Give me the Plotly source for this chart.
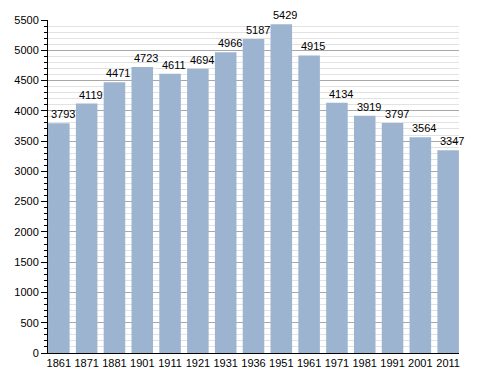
import plotly.graph_objects as go

years = ["1861", "1871", "1881", "1901", "1911", "1921", "1931", "1936", "1951", "1961", "1971", "1981", "1991", "2001", "2011"]
population = [3793, 4119, 4471, 4723, 4611, 4694, 4966, 5187, 5429, 4915, 4134, 3919, 3797, 3564, 3347]

FONT = "Liberation Sans, Arial"

fig = go.Figure(go.Bar(
    x=years, y=population,
    marker=dict(color="#9cb4d0", line=dict(width=0)),
))
for i, v in enumerate(population):
    fig.add_annotation(
        x=i, y=v, text=str(v), showarrow=False,
        xanchor="center", yanchor="bottom", xshift=4, yshift=1,
        font=dict(size=11, color="black", family=FONT),
    )
fig.update_layout(
    width=480, height=365,
    margin=dict(l=40, r=29, t=12, b=20, autoexpand=False),
    paper_bgcolor="white", plot_bgcolor="white",
    bargap=0.225,
    showlegend=False,
    font=dict(family=FONT, size=11, color="black"),
)
fig.update_xaxes(
    type="category", range=[-0.39, 14.39], automargin=False,
    showline=True, linecolor="black", linewidth=1,
    ticks="", showgrid=False, tickfont=dict(size=11),
)
fig.update_yaxes(
    range=[0, 5500], dtick=500, automargin=False,
    showline=True, linecolor="black", linewidth=1,
    ticks="outside", ticklen=6, tickcolor="black",
    showgrid=True, gridcolor="#a8a8a8", gridwidth=1,
    minor=dict(dtick=100, ticks="outside", ticklen=3, tickcolor="black",
               showgrid=True, gridcolor="#e2e2e2"),
    zeroline=False, tickfont=dict(size=11),
)
fig.write_html("out.html")
